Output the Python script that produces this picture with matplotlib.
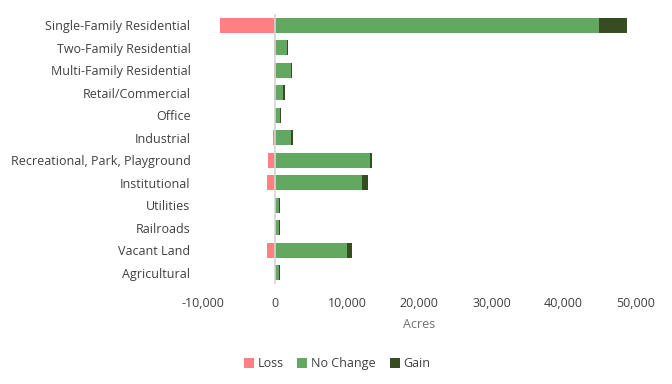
import matplotlib.pyplot as plt
from matplotlib.ticker import FuncFormatter

plt.rcParams['font.family'] = ['Open Sans', 'DejaVu Sans']

categories = ['Single-Family Residential', 'Two-Family Residential',
              'Multi-Family Residential', 'Retail/Commercial', 'Office',
              'Industrial', 'Recreational, Park, Playground', 'Institutional',
              'Utilities', 'Railroads', 'Vacant Land', 'Agricultural']
loss = [-7700, -200, -200, -200, -50, -350, -1000, -1150, -50, -50, -1150, -50]
no_change = [44950, 1630, 2150, 1040, 620, 2150, 13200, 12000, 500, 500, 10000, 500]
gain = [3900, 200, 150, 300, 150, 270, 270, 830, 120, 120, 700, 120]

fig = plt.figure(figsize=(6.72, 3.84), dpi=100)
ax = fig.add_axes([0.302, 0.260, 0.644, 0.703])

y = list(range(len(categories)))
h = 0.67
ax.barh(y, loss, height=h, color='#ff8080', label='Loss')
ax.barh(y, no_change, height=h, color='#63a860', label='No Change')
ax.barh(y, gain, height=h, left=no_change, color='#384c22', label='Gain')
ax.axvline(0, color='#d4d4d4', lw=1.2)

ax.set_ylim(len(categories) - 0.5, -0.5)
ax.set_xlim(-10000, 50000)
ax.set_yticks(y)
ax.set_yticklabels(categories)
ax.set_xticks(range(-10000, 50001, 10000))
ax.xaxis.set_major_formatter(FuncFormatter(lambda v, p: f'{int(v):,}'))
for s in ax.spines.values():
    s.set_visible(False)
ax.tick_params(length=0, labelsize=9, colors='#404040', pad=9)
ax.set_xlabel('Acres', fontsize=9, color='#707070', labelpad=6)

ax.legend(loc='upper center', bbox_to_anchor=(0.31, -0.23), ncol=3, frameon=False,
          fontsize=9, handlelength=0.8, handleheight=0.8, handletextpad=0.3,
          columnspacing=1.1, labelcolor='#404040')

fig.savefig('out.png')
